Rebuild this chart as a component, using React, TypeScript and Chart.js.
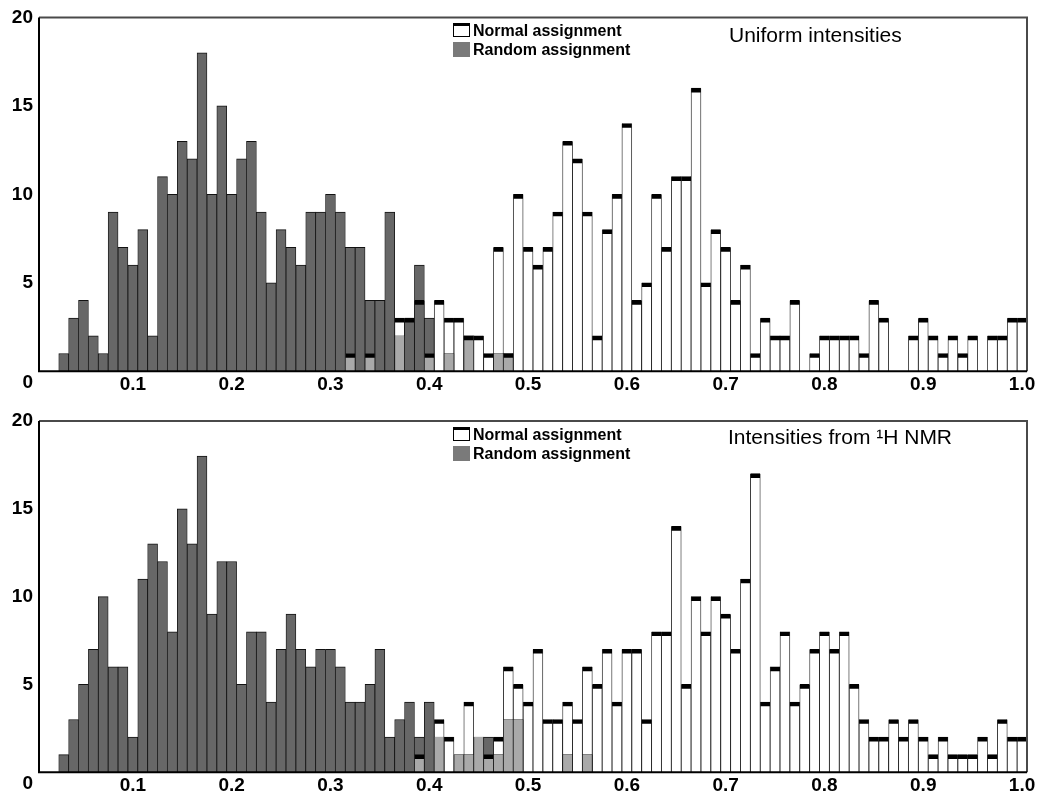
import React, { useEffect, useRef } from 'react';
import { Chart, registerables } from 'chart.js';

Chart.register(...registerables);

// ---- categories: histogram bins (bin centre values) ----
const binLabels = [
  '0.01', '0.02', '0.03', '0.04', '0.05', '0.06', '0.07', '0.08', '0.09', '0.10',
  '0.11', '0.12', '0.13', '0.14', '0.15', '0.16', '0.17', '0.18', '0.19', '0.20',
  '0.21', '0.22', '0.23', '0.24', '0.25', '0.26', '0.27', '0.28', '0.29', '0.30',
  '0.31', '0.32', '0.33', '0.34', '0.35', '0.36', '0.37', '0.38', '0.39', '0.40',
  '0.41', '0.42', '0.43', '0.44', '0.45', '0.46', '0.47', '0.48', '0.49', '0.50',
  '0.51', '0.52', '0.53', '0.54', '0.55', '0.56', '0.57', '0.58', '0.59', '0.60',
  '0.61', '0.62', '0.63', '0.64', '0.65', '0.66', '0.67', '0.68', '0.69', '0.70',
  '0.71', '0.72', '0.73', '0.74', '0.75', '0.76', '0.77', '0.78', '0.79', '0.80',
  '0.81', '0.82', '0.83', '0.84', '0.85', '0.86', '0.87', '0.88', '0.89', '0.90',
  '0.91', '0.92', '0.93', '0.94', '0.95', '0.96', '0.97', '0.98', '0.99', '1.00',
];

// ---- tick labels ----
const xTickLabels = ['0.1', '0.2', '0.3', '0.4', '0.5', '0.6', '0.7', '0.8', '0.9', '1.0'];
const yTickLabels = ['0', '5', '10', '15', '20'];
const yMax = 20;
const yStep = 5;

// ---- legend / titles ----
const legendNormal = 'Normal assignment';
const legendRandom = 'Random assignment';
const titleUniform = 'Uniform intensities';
const titleNmr = 'Intensities from \u00B9H NMR';

// ---- Panel 1: Uniform intensities ----
const uniformRandom = [
  0, 0, 1, 3, 4, 2, 1, 9, 7, 6,
  8, 2, 11, 10, 13, 12, 18, 10, 15, 10,
  12, 13, 9, 5, 8, 7, 6, 9, 9, 10,
  9, 7, 7, 4, 4, 9, 2, 3, 6, 3,
  0, 1, 0, 2, 0, 0, 1, 1, 0, 0,
  0, 0, 0, 0, 0, 0, 0, 0, 0, 0,
  0, 0, 0, 0, 0, 0, 0, 0, 0, 0,
  0, 0, 0, 0, 0, 0, 0, 0, 0, 0,
  0, 0, 0, 0, 0, 0, 0, 0, 0, 0,
  0, 0, 0, 0, 0, 0, 0, 0, 0, 0,
];
const uniformNormal = [
  0, 0, 0, 0, 0, 0, 0, 0, 0, 0,
  0, 0, 0, 0, 0, 0, 0, 0, 0, 0,
  0, 0, 0, 0, 0, 0, 0, 0, 0, 0,
  0, 1, 0, 1, 0, 0, 3, 3, 4, 1,
  4, 3, 3, 2, 2, 1, 7, 1, 10, 7,
  6, 7, 9, 13, 12, 9, 2, 8, 10, 14,
  4, 5, 10, 7, 11, 11, 16, 5, 8, 7,
  4, 6, 1, 3, 2, 2, 4, 0, 1, 2,
  2, 2, 2, 1, 4, 3, 0, 0, 2, 3,
  2, 1, 2, 1, 2, 0, 2, 2, 3, 3,
];
// light-grey (shared) part of the bars
const uniformShared = [
  0, 0, 0, 0, 0, 0, 0, 0, 0, 0,
  0, 0, 0, 0, 0, 0, 0, 0, 0, 0,
  0, 0, 0, 0, 0, 0, 0, 0, 0, 0,
  0, 1, 0, 1, 0, 0, 2, 0, 0, 1,
  0, 1, 0, 2, 0, 0, 1, 1, 0, 0,
  0, 0, 0, 0, 0, 0, 0, 0, 0, 0,
  0, 0, 0, 0, 0, 0, 0, 0, 0, 0,
  0, 0, 0, 0, 0, 0, 0, 0, 0, 0,
  0, 0, 0, 0, 0, 0, 0, 0, 0, 0,
  0, 0, 0, 0, 0, 0, 0, 0, 0, 0,
];

// ---- Panel 2: Intensities from 1H NMR ----
const nmrRandom = [
  0, 0, 1, 3, 5, 7, 10, 6, 6, 2,
  11, 13, 12, 8, 15, 13, 18, 9, 12, 12,
  5, 8, 8, 4, 7, 9, 7, 6, 7, 7,
  6, 4, 4, 5, 7, 2, 3, 4, 2, 4,
  2, 0, 1, 1, 2, 2, 1, 3, 3, 0,
  0, 0, 0, 1, 0, 1, 0, 0, 0, 0,
  0, 0, 0, 0, 0, 0, 0, 0, 0, 0,
  0, 0, 0, 0, 0, 0, 0, 0, 0, 0,
  0, 0, 0, 0, 0, 0, 0, 0, 0, 0,
  0, 0, 0, 0, 0, 0, 0, 0, 0, 0,
];
const nmrNormal = [
  0, 0, 0, 0, 0, 0, 0, 0, 0, 0,
  0, 0, 0, 0, 0, 0, 0, 0, 0, 0,
  0, 0, 0, 0, 0, 0, 0, 0, 0, 0,
  0, 0, 0, 0, 0, 0, 0, 0, 1, 0,
  3, 2, 0, 4, 0, 1, 2, 6, 5, 4,
  7, 3, 3, 4, 3, 6, 5, 7, 4, 7,
  7, 3, 8, 8, 14, 5, 10, 8, 10, 9,
  7, 11, 17, 4, 6, 8, 4, 5, 7, 8,
  7, 8, 5, 3, 2, 2, 3, 2, 3, 2,
  1, 2, 1, 1, 1, 2, 1, 3, 2, 2,
];
const nmrShared = [
  0, 0, 0, 0, 0, 0, 0, 0, 0, 0,
  0, 0, 0, 0, 0, 0, 0, 0, 0, 0,
  0, 0, 0, 0, 0, 0, 0, 0, 0, 0,
  0, 0, 0, 0, 0, 0, 0, 0, 1, 0,
  2, 0, 1, 1, 2, 1, 1, 3, 3, 0,
  0, 0, 0, 1, 0, 1, 0, 0, 0, 0,
  0, 0, 0, 0, 0, 0, 0, 0, 0, 0,
  0, 0, 0, 0, 0, 0, 0, 0, 0, 0,
  0, 0, 0, 0, 0, 0, 0, 0, 0, 0,
  0, 0, 0, 0, 0, 0, 0, 0, 0, 0,
];

const FONT = "'Liberation Sans', Arial, sans-serif";
const DARK = '#676767';
const LIGHT = '#a9a9a9';

const nz = (arr: number[]) => arr.map((v) => (v > 0 ? v : null));

const framePlugin = {
  id: 'frame',
  afterDatasetsDraw(chart: any) {
    const { ctx, chartArea } = chart;
    const { left, right, top, bottom } = chartArea;
    ctx.save();
    ctx.lineWidth = 2;
    ctx.strokeStyle = '#4a4a4a';
    ctx.beginPath();
    ctx.moveTo(left, top);
    ctx.lineTo(right, top);
    ctx.lineTo(right, bottom);
    ctx.stroke();
    ctx.strokeStyle = '#000';
    ctx.beginPath();
    ctx.moveTo(left, top);
    ctx.lineTo(left, bottom);
    ctx.lineTo(right, bottom);
    ctx.stroke();
    ctx.restore();
  },
};

type PanelProps = {
  top: number;
  height: number;
  padTop: number;
  axisH: number;
  normal: number[];
  random: number[];
  shared: number[];
};

function Panel({ top, height, padTop, axisH, normal, random, shared }: PanelProps) {
  const ref = useRef<HTMLCanvasElement>(null);
  useEffect(() => {
    if (!ref.current) return;
    const side = 0.8;
    const chart = new Chart(ref.current, {
      type: 'bar',
      data: {
        labels: binLabels,
        datasets: [
          {
            label: 'cap',
            data: nz(normal),
            backgroundColor: 'rgba(0,0,0,0)',
            borderColor: '#000',
            borderWidth: { top: 4, left: 0, right: 0, bottom: 0 },
            borderSkipped: false,
            order: 1,
          },
          {
            label: 'shared',
            data: nz(shared),
            backgroundColor: LIGHT,
            borderColor: '#222',
            borderWidth: { top: 0, left: side, right: side, bottom: 0 },
            borderSkipped: false,
            order: 2,
          },
          {
            label: legendRandom,
            data: nz(random),
            backgroundColor: DARK,
            borderColor: '#111',
            borderWidth: { top: 1, left: side, right: side, bottom: 0 },
            borderSkipped: false,
            order: 3,
          },
          {
            label: legendNormal,
            data: nz(normal),
            backgroundColor: '#ffffff',
            borderColor: '#111',
            borderWidth: { top: 0, left: side, right: side, bottom: 0 },
            borderSkipped: false,
            order: 4,
          },
        ] as any,
      },
      options: {
        animation: false,
        responsive: false,
        devicePixelRatio: 1,
        datasets: { bar: { barPercentage: 1, categoryPercentage: 1 } } as any,
        layout: { padding: { top: padTop, right: 15, left: 0, bottom: 0 } },
        plugins: { legend: { display: false }, tooltip: { enabled: false } },
        scales: {
          x: {
            type: 'category',
            stacked: true,
            offset: true,
            grid: { display: false, drawTicks: false },
            border: { display: false },
            ticks: {
              autoSkip: false,
              maxRotation: 0,
              minRotation: 0,
              padding: 2,
              color: '#000',
              font: { family: FONT, size: 19, weight: 'bold' },
              callback: (_v: any, i: number) => (i % 10 === 9 ? xTickLabels[(i - 9) / 10] : ''),
            },
            afterFit: (s: any) => {
              s.height = axisH;
            },
          },
          y: {
            type: 'linear',
            stacked: false,
            min: 0,
            max: yMax,
            grid: { display: false, drawTicks: false },
            border: { display: false },
            ticks: {
              stepSize: yStep,
              padding: 6,
              color: '#000',
              font: { family: FONT, size: 19, weight: 'bold' },
              callback: (v: any) => {
                const lbl = yTickLabels[Math.round(Number(v) / yStep)];
                return Number(v) === 0 ? ['', lbl] : lbl;
              },
            },
            afterFit: (s: any) => {
              s.width = 39;
            },
          },
        } as any,
      },
      plugins: [framePlugin],
    } as any);
    return () => chart.destroy();
  }, []);
  return (
    <canvas
      ref={ref}
      width={1042}
      height={height}
      style={{ position: 'absolute', left: 0, top, width: 1042, height }}
    />
  );
}

const txtBase: React.CSSProperties = { position: 'absolute', whiteSpace: 'nowrap', color: '#000', fontFamily: FONT };

function Legend({ y0 }: { y0: number }) {
  return (
    <>
      <div
        style={{
          position: 'absolute',
          left: 453,
          top: y0 + 6,
          width: 15,
          height: 10,
          background: '#fff',
          border: '1px solid #000',
          borderTop: '3px solid #000',
        }}
      />
      <div style={{ ...txtBase, left: 473, top: y0 + 5.5, fontSize: 16, lineHeight: '16px', fontWeight: 'bold' }}>
        {legendNormal}
      </div>
      <div style={{ position: 'absolute', left: 453, top: y0 + 25, width: 17, height: 15, background: '#7a7a7a' }} />
      <div style={{ ...txtBase, left: 473, top: y0 + 24.5, fontSize: 16, lineHeight: '16px', fontWeight: 'bold' }}>
        {legendRandom}
      </div>
    </>
  );
}

export default function App() {
  return (
    <div style={{ position: 'absolute', left: 0, top: 0, width: 1042, height: 801, background: '#fff' }}>
      <Panel top={0} height={400} padTop={17} axisH={22} normal={uniformNormal} random={uniformRandom} shared={uniformShared} />
      <Panel top={400} height={401} padTop={21} axisH={21} normal={nmrNormal} random={nmrRandom} shared={nmrShared} />
      <Legend y0={17} />
      <Legend y0={421} />
      <div style={{ ...txtBase, left: 729, top: 24, fontSize: 21, lineHeight: '21px' }}>{titleUniform}</div>
      <div style={{ ...txtBase, left: 728, top: 426, fontSize: 21, lineHeight: '21px' }}>{titleNmr}</div>
    </div>
  );
}
